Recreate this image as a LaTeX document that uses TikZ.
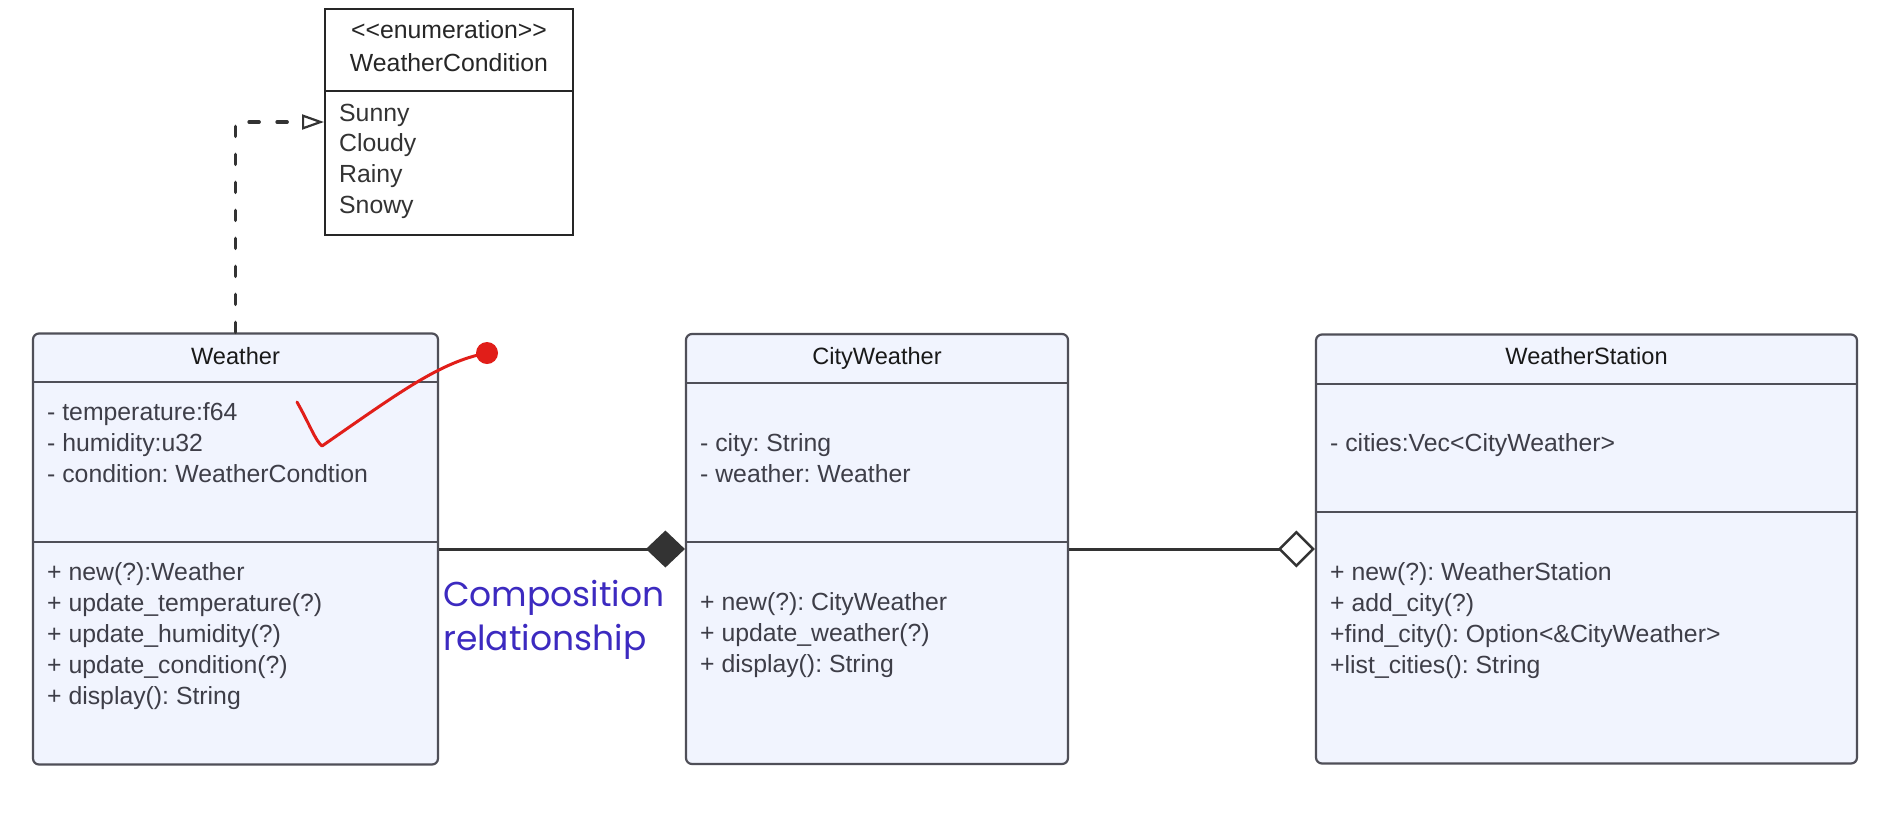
\documentclass[tikz,border=0pt]{standalone}
\usepackage{fontspec}
\setmainfont{Liberation Sans}
\newfontfamily\compfont{Poppins}
\usetikzlibrary{arrows.meta}
\definecolor{boxfill}{HTML}{F1F4FE}
\definecolor{boxline}{HTML}{4F4F58}
\definecolor{txt}{HTML}{3E3E48}
\definecolor{comp}{RGB}{60,42,192}
\definecolor{redmark}{RGB}{225,30,25}
\frenchspacing
\begin{document}
\begin{tikzpicture}[x=1pt,y=-1pt,
 classbox/.style={draw=boxline, line width=2.2pt, fill=boxfill, rounded corners=6pt, inner sep=0},
 enumbox/.style={draw=black!85, line width=2pt, fill=white, inner sep=0},
 divline/.style={draw=boxline, line width=2.2pt},
 member/.style={anchor=base west, inner sep=0, text=txt, font=\frenchspacing\fontsize{24.8}{31}\selectfont},
 header/.style={anchor=base, inner sep=0, text=black!90, font=\fontsize{23.6}{29}\selectfont},
 complab/.style={anchor=base west, inner sep=0, text=comp, font=\compfont\fontsize{34.5}{44}\selectfont},
 conn/.style={draw=black!80, line width=3pt},
]
\useasboundingbox[fill=white] (0,0) rectangle (1892,820);

% ---------- enumeration ----------
\node[enumbox, minimum width=248pt, minimum height=226pt] (enum) at (449,122) {};
\draw[draw=black!85, line width=2pt] (325,91) -- (573,91);
\node[member, anchor=base, text=black!85] (enums) at (449,38) {{<}{<}enumeration{>}{>}};
\node[member, anchor=base, text=black!85] (enumn) at (449,71) {WeatherCondition};
\foreach \t [count=\i] in {Sunny,Cloudy,Rainy,Snowy}
  \node[member, text=black!80] (ev\i) at (339,{121+30.7*(\i-1)}) {\t};

% ---------- Weather ----------
\node[classbox, minimum width=405pt, minimum height=431pt] (weather) at (235.5,549) {};
\draw[divline] (33,382) -- (438,382);
\draw[divline] (33,542) -- (438,542);
\node[header] (wh) at (235.5,364) {Weather};
\foreach \t [count=\i] in {{- temperature:f64},{- humidity:u32},{- condition: WeatherCondtion}}
  \node[member] (wa\i) at (47,{420+31*(\i-1)}) {\t};
\foreach \t [count=\i] in {{+ new(?):Weather},{+ update\_temperature(?)},{+ update\_humidity(?)},{+ update\_condition(?)},{+ display(): String}}
  \node[member] (wm\i) at (47,{580+31.2*(\i-1)}) {\t};

% ---------- CityWeather ----------
\node[classbox, minimum width=382pt, minimum height=430pt] (cw) at (877,549) {};
\draw[divline] (686,383) -- (1068,383);
\draw[divline] (686,542) -- (1068,542);
\node[header] (cwh) at (877,364) {CityWeather};
\foreach \t [count=\i] in {{- city: String},{- weather: Weather}}
  \node[member] (ca\i) at (700,{451+31*(\i-1)}) {\t};
\foreach \t [count=\i] in {{+ new(?): CityWeather},{+ update\_weather(?)},{+ display(): String}}
  \node[member] (cm\i) at (700,{610+31*(\i-1)}) {\t};

% ---------- WeatherStation ----------
\node[classbox, minimum width=541pt, minimum height=429pt] (ws) at (1586.5,549) {};
\draw[divline] (1316,384) -- (1857,384);
\draw[divline] (1316,512) -- (1857,512);
\node[header] (wsh) at (1586.5,364) {WeatherStation};
\node[member] (wsa1) at (1330,451) {- cities:Vec<CityWeather>};
\foreach \t [count=\i] in {{+ new(?): WeatherStation},{+ add\_city(?)},{+find\_city(): Option<\&CityWeather>},{+list\_cities(): String}}
  \node[member] (wsm\i) at (1330,{580+31*(\i-1)}) {\t};

% ---------- connectors ----------
\draw[conn, line width=3.5pt, line cap=round, dash pattern=on 10pt off 18pt,
  -{Triangle[open, length=22pt, width=15pt, line width=2.2pt]}]
  (weather.north) |- (enum.west);
\draw[conn, -{Diamond[length=39pt, width=37pt, fill=black!80]}] (weather.east) -- (cw.west);
\draw[conn, -{Diamond[open, length=37pt, width=37pt, line width=2.5pt]}] (cw.east) -- (ws.west);

\node[complab] (comp1) at (443,606) {Composition};
\node[complab] (comp2) at (443,650) {relationship};

% ---------- red check mark ----------
\node[circle, fill=redmark, minimum size=22pt, inner sep=0] (dot) at (487,353) {};
\draw[redmark, line width=3pt, line cap=round, line join=round]
  (297,402) .. controls (310,425) and (315,440) .. (322,446)
  .. controls (400,392) and (440,362) .. (dot.center);
\end{tikzpicture}
\end{document}
